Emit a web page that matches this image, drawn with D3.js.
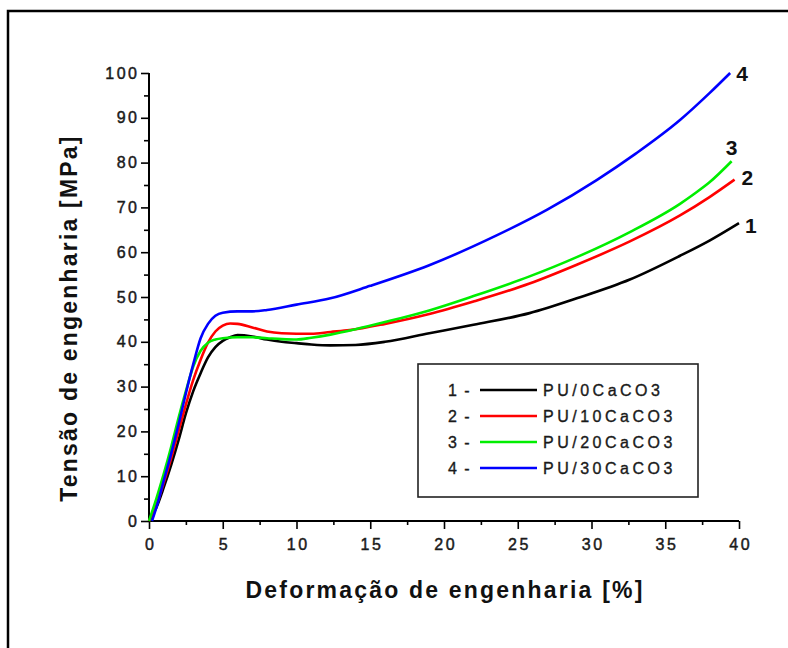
<!DOCTYPE html>
<html>
<head>
<meta charset="utf-8">
<script src="https://cdn.jsdelivr.net/npm/d3@7"></script>
<style>
  html, body { margin: 0; padding: 0; background: #fff; }
  svg { display: block; }
</style>
</head>
<body>
<svg id="chart" width="788" height="648"></svg>
<script>
// ---- Data ----
const seriesNames = ["PU/0CaCO3", "PU/10CaCO3", "PU/20CaCO3", "PU/30CaCO3"];
const seriesNumbers = ["1", "2", "3", "4"];
const seriesColors = ["#000000", "#ff0000", "#00ee00", "#0000ff"];

const x1 = [0,0.5,1,1.5,2,2.5,3,3.5,4,4.5,5,5.5,6,7,8,9,10,11,12.3,14,16,19,22,25.8,29,32.6,36,38,40];
const y1 = [0,3,7.5,12.5,18,24,29,33,36.5,38.8,40.2,41,41.5,41.2,40.5,40,39.7,39.4,39.2,39.3,40,41.9,43.8,46.4,49.7,53.9,59.2,62.6,66.5];

const x2 = [0,0.5,1,1.5,2,2.5,3,3.5,4,4.5,5,5.5,6,7,8,9,10,11,12.3,13.6,16,19,22,25.8,29,32.6,36,38,39.7];
const y2 = [0,3.5,8.5,14,20,26,31.5,36,39.8,42.3,43.6,44.1,44,43.2,42.3,41.9,41.8,41.8,42.2,42.6,44,46.2,49,53,57.2,62.4,68.2,72.3,76.2];

const x3 = [0,0.5,1,1.5,2,2.5,3,3.5,4,4.5,5,6,7,8,9,10,11,12.3,14,16,19,22,25.8,29,32.6,36,37,38,39.5];
const y3 = [0,5,10.5,16.5,23,29,34.5,38,39.8,40.5,40.8,41,41,40.8,40.6,40.5,40.9,41.6,42.8,44.4,47,50.2,54.6,58.9,64.5,70.8,73.1,75.6,80.3];

const x4 = [0.2,0.5,1,1.5,2,2.5,3,3.5,4,4.5,5,6,7,8,10,12.3,15,19,23.6,27,30.35,33,36,38,39.4];
const y4 = [0,3,9,15,21.5,28.5,35,40.8,44,45.8,46.5,46.8,46.8,47.1,48.3,49.7,52.5,57.1,63.8,69.5,76.1,82,89.5,95.5,100];

const xTicks = [0,5,10,15,20,25,30,35,40];
const yTicks = [0,10,20,30,40,50,60,70,80,90,100];
const xTitle = "Deformação de engenharia [%]";
const yTitle = "Tensão de engenharia [MPa]";

const seriesX = [x1, x2, x3, x4];
const seriesY = [y1, y2, y3, y4];

// ---- Drawing ----
const svg = d3.select("#chart");
const FONT = "'Liberation Sans', Arial, sans-serif";

// outer frame
svg.append("rect").attr("x", 8).attr("y", 11).attr("width", 820).attr("height", 700)
  .attr("fill", "none").attr("stroke", "#000").attr("stroke-width", 2.5);

const x = d3.scaleLinear().domain([0, 40]).range([149, 739]);
const y = d3.scaleLinear().domain([0, 100]).range([521, 73]);

const xMinor = d3.range(2.5, 40, 5);
const yMinor = d3.range(5, 100, 10);
const LS = 2.5;

const gx = svg.append("g").attr("transform", `translate(0,${y(0)})`);
gx.call(d3.axisBottom(x).tickValues(xTicks).tickSize(8).tickPadding(10).tickFormat(d3.format("d")));
const gxm = svg.append("g").attr("transform", `translate(0,${y(0)})`);
gxm.call(d3.axisBottom(x).tickValues(xMinor).tickSize(4).tickFormat(""));
gxm.select(".domain").remove();

const gy = svg.append("g").attr("transform", `translate(${x(0)},0)`);
gy.call(d3.axisLeft(y).tickValues(yTicks).tickSize(8).tickPadding(1.5).tickFormat(d3.format("d")));
const gym = svg.append("g").attr("transform", `translate(${x(0)},0)`);
gym.call(d3.axisLeft(y).tickValues(yMinor).tickSize(5).tickFormat(""));
gym.select(".domain").remove();

[gx, gxm, gy, gym].forEach(g => {
  g.selectAll(".domain").attr("stroke", "#000").attr("stroke-width", 2);
  g.selectAll(".tick line").attr("stroke", "#000").attr("stroke-width", 1.6);
});
gx.select(".domain").attr("d", `M${x(0)},0H${x(40)}`);
gy.select(".domain").attr("d", `M0,${y(0)}V${y(100)}`);

[gx, gy].forEach(g => {
  g.selectAll(".tick text")
    .attr("font-family", FONT).attr("font-size", 16)
    .attr("letter-spacing", LS + "px").attr("fill", "#1a1a1a")
    .attr("stroke", "#1a1a1a").attr("stroke-width", 0.45);
});
gx.selectAll(".tick text").attr("dx", LS / 2);

// curves
const line = d3.line().x(d => x(d[0])).y(d => y(d[1])).curve(d3.curveMonotoneX);
seriesX.forEach((xs, i) => {
  const pts = xs.map((v, j) => [v, seriesY[i][j]]);
  svg.append("path").datum(pts).attr("d", line)
    .attr("fill", "none").attr("stroke", seriesColors[i])
    .attr("stroke-width", 2.6).attr("stroke-linejoin", "round");
});

// end numbers
const numOffsets = [[6, 10], [7, 5], [-6, -6], [6, 8]];
seriesX.forEach((xs, i) => {
  const lx = xs[xs.length - 1], ly = seriesY[i][seriesY[i].length - 1];
  svg.append("text").attr("x", x(lx) + numOffsets[i][0]).attr("y", y(ly) + numOffsets[i][1])
    .attr("font-family", FONT).attr("font-weight", "bold").attr("font-size", 21)
    .attr("fill", "#111").text(seriesNumbers[i]);
});

// axis titles
svg.append("text").attr("x", 445).attr("y", 598).attr("text-anchor", "middle")
  .attr("font-family", FONT).attr("font-weight", "bold").attr("font-size", 23)
  .attr("letter-spacing", "2.2px").attr("fill", "#111").text(xTitle);
svg.append("text").attr("transform", "translate(77,318) rotate(-90)").attr("text-anchor", "middle")
  .attr("font-family", FONT).attr("font-weight", "bold").attr("font-size", 23)
  .attr("letter-spacing", "2.2px").attr("fill", "#111").text(yTitle);

// legend
const lg = svg.append("g");
lg.append("rect").attr("x", 418).attr("y", 364).attr("width", 280).attr("height", 133)
  .attr("fill", "#fff").attr("stroke", "#222").attr("stroke-width", 1.6);
seriesNames.forEach((name, i) => {
  const cy = 390 + i * 26;
  lg.append("text").attr("x", 448).attr("y", cy + 6)
    .attr("font-family", FONT).attr("font-size", 16).attr("letter-spacing", "1.5px")
    .attr("fill", "#1a1a1a").attr("stroke", "#1a1a1a").attr("stroke-width", 0.35)
    .text(seriesNumbers[i] + " -");
  lg.append("line").attr("x1", 480).attr("x2", 537).attr("y1", cy).attr("y2", cy)
    .attr("stroke", seriesColors[i]).attr("stroke-width", 2.6);
  lg.append("text").attr("x", 543).attr("y", cy + 6)
    .attr("font-family", FONT).attr("font-size", 16).attr("letter-spacing", "3.5px")
    .attr("fill", "#1a1a1a").attr("stroke", "#1a1a1a").attr("stroke-width", 0.35)
    .text(name);
});
</script>
</body>
</html>
